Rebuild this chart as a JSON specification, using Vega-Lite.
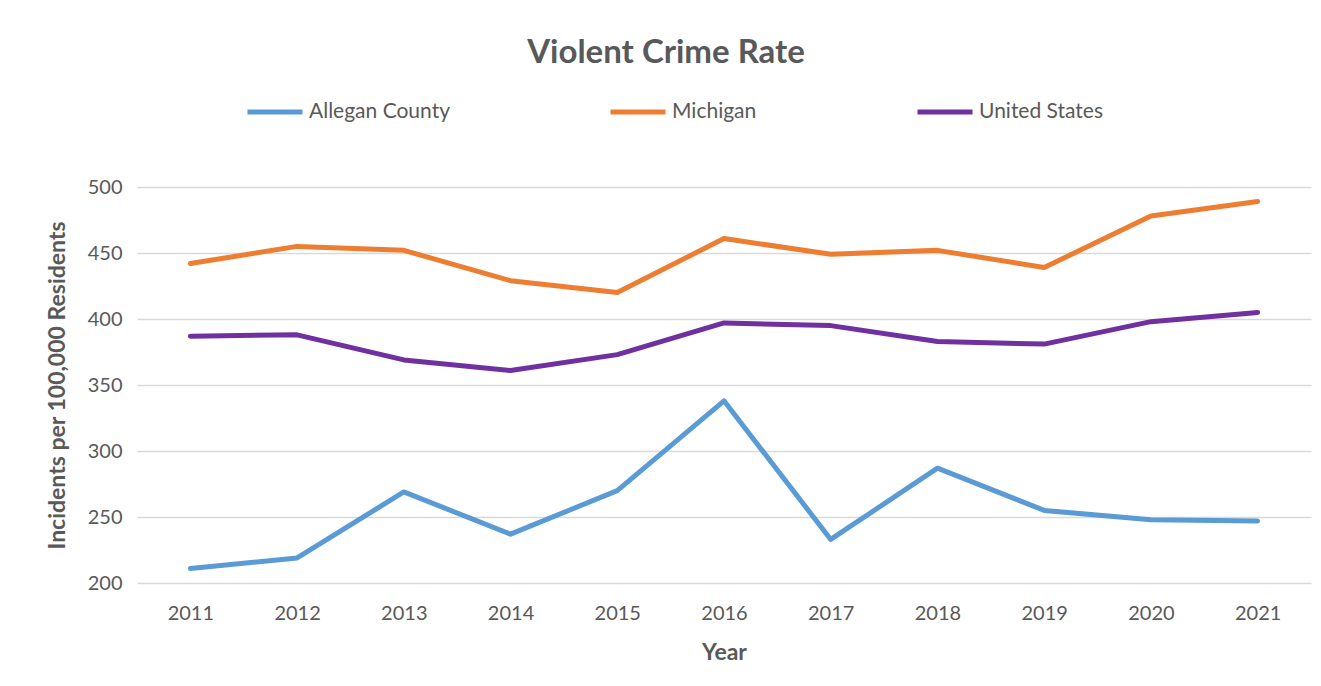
{
  "$schema": "https://vega.github.io/schema/vega-lite/v6.json",
  "width": 1174,
  "height": 396,
  "autosize": {"type": "none"},
  "padding": {"left": 137, "top": 187, "right": 10, "bottom": 103},
  "background": "white",
  "title": {"text": "Violent Crime Rate", "anchor": "middle", "frame": "group", "dx": -58, "offset": 12, "fontSize": 33, "font": "Lato", "fontWeight": "bold", "color": "#595959"},
  "config": {"view": {"stroke": null}, "font": "Lato"},
  "data": {"values": [
    {"Year": "2011", "Series": "Allegan County", "Rate": 211},
    {"Year": "2012", "Series": "Allegan County", "Rate": 219},
    {"Year": "2013", "Series": "Allegan County", "Rate": 269},
    {"Year": "2014", "Series": "Allegan County", "Rate": 237},
    {"Year": "2015", "Series": "Allegan County", "Rate": 270},
    {"Year": "2016", "Series": "Allegan County", "Rate": 338},
    {"Year": "2017", "Series": "Allegan County", "Rate": 233},
    {"Year": "2018", "Series": "Allegan County", "Rate": 287},
    {"Year": "2019", "Series": "Allegan County", "Rate": 255},
    {"Year": "2020", "Series": "Allegan County", "Rate": 248},
    {"Year": "2021", "Series": "Allegan County", "Rate": 247},
    {"Year": "2011", "Series": "Michigan", "Rate": 442},
    {"Year": "2012", "Series": "Michigan", "Rate": 455},
    {"Year": "2013", "Series": "Michigan", "Rate": 452},
    {"Year": "2014", "Series": "Michigan", "Rate": 429},
    {"Year": "2015", "Series": "Michigan", "Rate": 420},
    {"Year": "2016", "Series": "Michigan", "Rate": 461},
    {"Year": "2017", "Series": "Michigan", "Rate": 449},
    {"Year": "2018", "Series": "Michigan", "Rate": 452},
    {"Year": "2019", "Series": "Michigan", "Rate": 439},
    {"Year": "2020", "Series": "Michigan", "Rate": 478},
    {"Year": "2021", "Series": "Michigan", "Rate": 489},
    {"Year": "2011", "Series": "United States", "Rate": 387},
    {"Year": "2012", "Series": "United States", "Rate": 388},
    {"Year": "2013", "Series": "United States", "Rate": 369},
    {"Year": "2014", "Series": "United States", "Rate": 361},
    {"Year": "2015", "Series": "United States", "Rate": 373},
    {"Year": "2016", "Series": "United States", "Rate": 397},
    {"Year": "2017", "Series": "United States", "Rate": 395},
    {"Year": "2018", "Series": "United States", "Rate": 383},
    {"Year": "2019", "Series": "United States", "Rate": 381},
    {"Year": "2020", "Series": "United States", "Rate": 398},
    {"Year": "2021", "Series": "United States", "Rate": 405}
  ]},
  "mark": {"type": "line", "strokeWidth": 5, "strokeCap": "round", "strokeJoin": "round"},
  "encoding": {
    "x": {"field": "Year", "type": "ordinal", "scale": {"type": "point", "padding": 0.5},
      "axis": {"title": "Year", "titleFontSize": 23, "titleFontWeight": "bold", "titleColor": "#595959", "titlePadding": 18,
        "labelAngle": 0, "labelFontSize": 20, "labelColor": "#595959", "labelPadding": 20, "ticks": false, "domain": false, "grid": false}},
    "y": {"field": "Rate", "type": "quantitative", "scale": {"domain": [200, 500], "nice": false, "zero": false},
      "axis": {"title": "Incidents per 100,000 Residents", "titleFontSize": 23, "titleFontWeight": "bold", "titleColor": "#595959", "titlePadding": 18,
        "values": [200, 250, 300, 350, 400, 450, 500], "labelFontSize": 20, "labelColor": "#595959", "labelPadding": 15,
        "ticks": false, "domain": false, "gridColor": "#d9d9d9", "gridWidth": 1.5}},
    "color": {"field": "Series", "type": "nominal",
      "scale": {"domain": ["Allegan County", "Michigan", "United States"], "range": ["#5B9BD5", "#ED7D31", "#7030A0"]},
      "legend": {"title": null, "orient": "none", "legendX": 108, "legendY": -105, "direction": "horizontal", "columns": 3,
        "columnPadding": 150, "symbolType": "stroke", "symbolSize": 3025, "symbolStrokeWidth": 5, "labelFontSize": 21,
        "labelColor": "#595959", "labelOffset": 4, "labelFont": "Lato"}}
  }
}
